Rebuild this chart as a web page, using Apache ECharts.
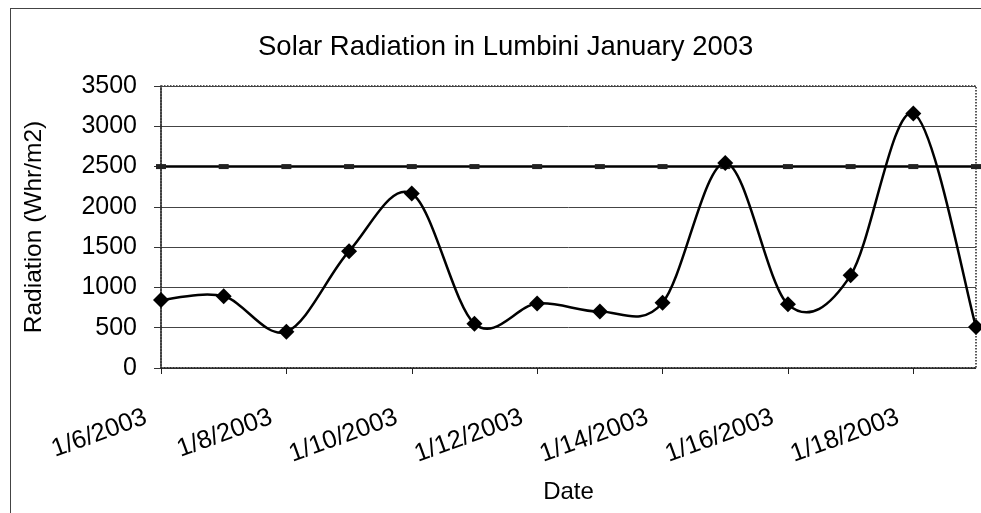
<!DOCTYPE html>
<html>
<head>
<meta charset="utf-8">
<script src="https://cdn.jsdelivr.net/npm/echarts@6/dist/echarts.min.js"></script>
<style>
  html, body { margin: 0; padding: 0; background: #fff; }
  #wrap { position: relative; width: 981px; height: 513px; }
  #chart { position: absolute; left: 0; top: 0; width: 981px; height: 513px; }
  #frame {
    position: absolute; left: 10px; top: 8px; right: 0; bottom: 0;
    border-left: 1px solid #444; border-top: 1.5px solid #444;
    pointer-events: none;
  }
</style>
</head>
<body>
<div id="wrap">
  <div id="chart"></div>
  <div id="frame"></div>
</div>
<script>
// categories (one reading per day)
const dates = ['1/6/2003', '1/7/2003', '1/8/2003', '1/9/2003', '1/10/2003', '1/11/2003', '1/12/2003',
  '1/13/2003', '1/14/2003', '1/15/2003', '1/16/2003', '1/17/2003', '1/18/2003', '1/19/2003'];
// daily radiation, Whr/m2
const radiation = [845, 890, 450, 1450, 2165, 550, 800, 700, 810, 2545, 790, 1150, 3160, 510];
// reference level line
const reference = [2500, 2500, 2500, 2500, 2500, 2500, 2500, 2500, 2500, 2500, 2500, 2500, 2500, 2500];
const yTicks = [0, 500, 1000, 1500, 2000, 2500, 3000, 3500];

const font = 'Arial, "Liberation Sans", sans-serif';

const chart = echarts.init(document.getElementById('chart'));

// excel-style smoothed segment between point i and i+1 (catmull-rom as bezier)
function renderSegment(params, api) {
  const i = params.dataIndex;
  const n = radiation.length;
  if (i >= n - 1) return null;
  const pt = j => {
    const c = Math.max(0, Math.min(n - 1, j));
    return api.coord([c, radiation[c]]);
  };
  const p0 = pt(i - 1), p1 = pt(i), p2 = pt(i + 1), p3 = pt(i + 2);
  const k = 1 / 6;
  return {
    type: 'bezierCurve',
    shape: {
      x1: p1[0], y1: p1[1],
      cpx1: p1[0] + (p2[0] - p0[0]) * k, cpy1: p1[1] + (p2[1] - p0[1]) * k,
      cpx2: p2[0] - (p3[0] - p1[0]) * k, cpy2: p2[1] - (p3[1] - p1[1]) * k,
      x2: p2[0], y2: p2[1]
    },
    style: { stroke: '#000', lineWidth: 2.5, fill: null }
  };
}

const option = {
  animation: false,
  title: {
    text: 'Solar Radiation in Lumbini January 2003',
    left: 253,
    top: 28,
    textStyle: { fontFamily: font, fontSize: 27.5, fontWeight: 'normal', color: '#000' }
  },
  grid: {
    left: 161, right: 5, top: 86, bottom: 145,
    show: true,
    borderColor: '#222',
    borderWidth: 1.5,
    borderType: 'dotted'
  },
  xAxis: {
    type: 'category',
    data: dates,
    boundaryGap: false,
    name: 'Date',
    nameLocation: 'middle',
    nameGap: 112,
    nameTextStyle: { fontFamily: font, fontSize: 24, color: '#000' },
    axisLine: { lineStyle: { color: '#222', width: 1.5, type: 'dotted' } },
    axisTick: { show: true, interval: 1, length: 6, lineStyle: { color: '#222' } },
    axisLabel: {
      interval: 1,
      rotate: 20,
      margin: 43,
      padding: [0, 16, 0, 0],
      fontFamily: font,
      fontSize: 25.5,
      color: '#000'
    },
    splitLine: { show: false }
  },
  yAxis: {
    type: 'value',
    min: yTicks[0],
    max: yTicks[yTicks.length - 1],
    interval: 500,
    name: 'Radiation (Whr/m2)',
    nameLocation: 'middle',
    nameGap: 114,
    nameTextStyle: { fontFamily: font, fontSize: 24.5, color: '#000' },
    axisLine: { show: true, lineStyle: { color: '#222', width: 1.5, type: 'dotted' } },
    axisTick: { show: true, length: 7, lineStyle: { color: '#333' } },
    axisLabel: { margin: 24, fontFamily: font, fontSize: 25, color: '#000', formatter: v => String(v) },
    splitLine: { show: true, lineStyle: { color: '#444', width: 1 } }
  },
  series: [
    {
      name: 'Reference',
      type: 'line',
      data: reference,
      symbol: 'rect',
      symbolSize: [10, 5],
      itemStyle: { color: '#222' },
      lineStyle: { color: '#000', width: 2.5 },
      z: 2
    },
    {
      name: 'Radiation curve',
      type: 'custom',
      renderItem: renderSegment,
      data: radiation.map((v, i) => [i, v]),
      encode: { x: 0, y: 1 },
      z: 3
    },
    {
      name: 'Radiation',
      type: 'scatter',
      data: radiation.map((v, i) => [i, v]),
      symbol: 'diamond',
      symbolSize: 16,
      itemStyle: { color: '#000', opacity: 1 },
      z: 4
    }
  ]
};

chart.setOption(option);
</script>
</body>
</html>
